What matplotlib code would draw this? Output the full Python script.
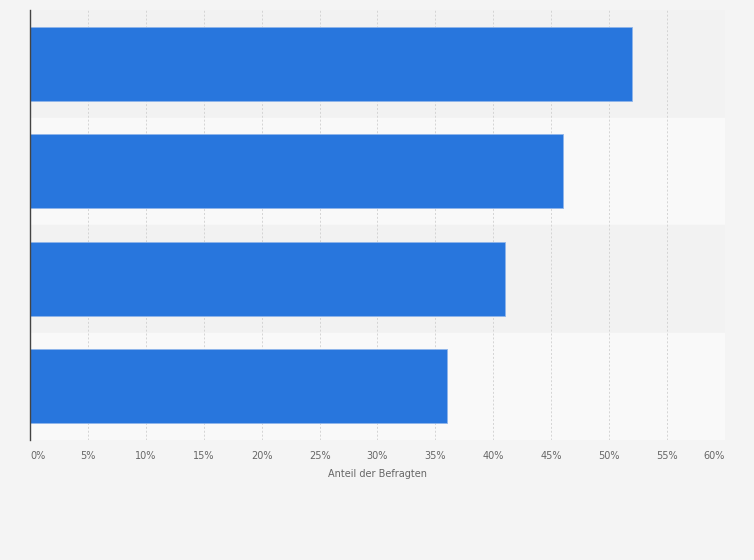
import matplotlib.pyplot as plt
import numpy as np

categories = ['A', 'B', 'C', 'D']
values = [52, 46, 41, 36]
ticks = [0, 5, 10, 15, 20, 25, 30, 35, 40, 45, 50, 55, 60]
tick_labels = [f'{t}%' for t in ticks]

fig = plt.figure(figsize=(7.54, 5.6), dpi=100, facecolor='#f4f4f4')
ax = fig.add_axes([30 / 754, 1 - 440 / 560, 695 / 754, 430 / 560])
ax.set_facecolor('#f4f4f4')

y = np.arange(len(categories))
# alternating row bands
for i in y:
    ax.axhspan(i - 0.5, i + 0.5, color='#f2f2f2' if i % 2 == 0 else '#f9f9f9', zorder=0)

ax.barh(y, values, height=0.69, color='#2876dd', edgecolor='#8fb5ea', linewidth=0.6, zorder=3)

ax.set_ylim(len(categories) - 0.5, -0.5)
ax.set_xlim(0, 60)
ax.set_yticks([])
ax.set_xticks(ticks)
ax.set_xticklabels(tick_labels, fontsize=7, color='#666666')
labels = ax.get_xticklabels()
labels[0].set_horizontalalignment('left')
labels[-1].set_horizontalalignment('right')
ax.tick_params(axis='x', length=0, pad=8)
ax.grid(axis='x', color='#d4d4d4', linestyle=(0, (2, 2)), linewidth=0.7, zorder=1)
ax.set_xlabel('Anteil der Befragten', fontsize=7, color='#666666', labelpad=6)

for s in ['top', 'right', 'bottom']:
    ax.spines[s].set_visible(False)
ax.spines['left'].set_color('#444444')
ax.spines['left'].set_linewidth(1)
ax.spines['left'].set_zorder(4)

fig.savefig('out.png', dpi=100, facecolor=fig.get_facecolor())
